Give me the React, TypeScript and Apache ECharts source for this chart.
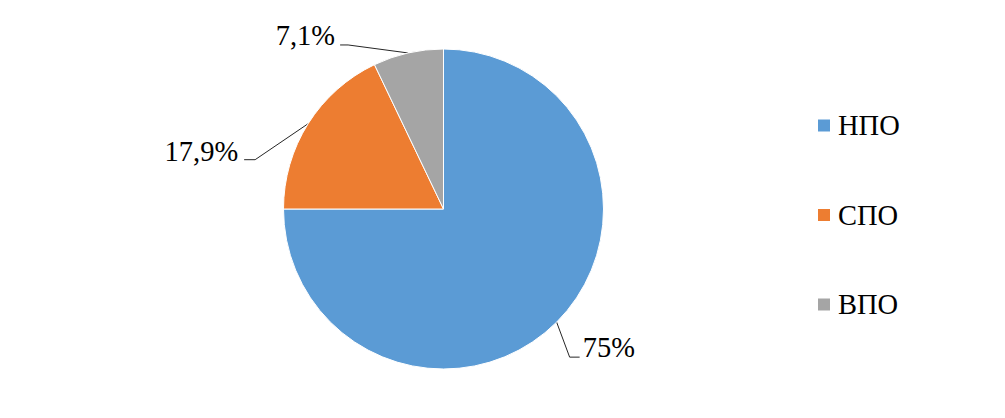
import React, { useEffect, useRef } from "react";
import * as echarts from "echarts";

const categories = ["НПО", "СПО", "ВПО"];
const values = [75, 17.9, 7.1];
const valueLabels = ["75%", "17,9%", "7,1%"];
const colors = ["#5B9BD5", "#ED7D31", "#A5A5A5"];

// label line geometry, relative to each slice's edge anchor
const LABEL_GEOM = [
  { bend: [13, 35], end: [23, 35], tx: 3, ty: -10, align: "left" },
  { bend: [-53, 36], end: [-64, 36], tx: -6, ty: -8, align: "right" },
  { bend: [-60, -8], end: [-68, -8], tx: -5, ty: -9, align: "right" },
];

const FONT = "Liberation Serif";

export default function App() {
  const ref = useRef<HTMLDivElement>(null);
  useEffect(() => {
    document.body.style.margin = "0";
    const chart = echarts.init(ref.current!, null, { renderer: "svg" });
    chart.setOption({
      animation: false,
      color: colors,
      textStyle: { fontFamily: FONT },
      legend: {
        orient: "vertical",
        left: 816,
        top: 111,
        padding: 0,
        itemWidth: 14,
        itemHeight: 14,
        itemGap: 60.5,
        icon: "rect",
        data: categories,
        textStyle: { fontFamily: FONT, fontSize: 28.5, lineHeight: 28, color: "#000", padding: [0, 0, 0, 2] },
      },
      series: [
        {
          type: "pie",
          center: [443.5, 209],
          radius: 160,
          startAngle: 90,
          clockwise: true,
          avoidLabelOverlap: false,
          itemStyle: { borderColor: "#fff", borderWidth: 1 },
          label: {
            show: true,
            position: "outside",
            fontFamily: FONT,
            fontSize: 28.5,
            color: "#000",
            formatter: (p: any) => valueLabels[p.dataIndex],
          },
          labelLine: { show: true, length: 20, length2: 10, lineStyle: { color: "#262626", width: 1 } },
          labelLayout: (p: any) => {
            const g = LABEL_GEOM[p.dataIndex];
            const a = p.labelLinePoints ? p.labelLinePoints[0] : [0, 0];
            const ax = a[0], ay = a[1];
            const bx = ax + g.bend[0], by = ay + g.bend[1];
            const ex = ax + g.end[0], ey = ay + g.end[1];
            return {
              x: ex + g.tx,
              y: ey + g.ty,
              align: g.align,
              verticalAlign: "middle",
              labelLinePoints: [[ax, ay], [bx, by], [ex, ey]],
            };
          },
          data: categories.map((c, i) => ({ name: c, value: values[i] })),
        },
      ],
    });
    return () => chart.dispose();
  }, []);
  return <div ref={ref} style={{ width: 1005, height: 418 }} />;
}
